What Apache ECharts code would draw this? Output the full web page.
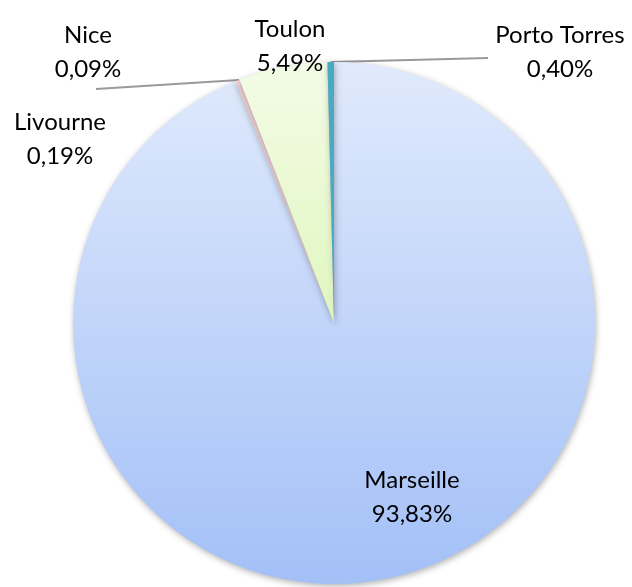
<!DOCTYPE html>
<html>
<head>
<meta charset="utf-8">
<script src="https://cdn.jsdelivr.net/npm/echarts@6/dist/echarts.min.js"></script>
<style>
  html, body { margin: 0; padding: 0; background: #fff; }
  #chart { width: 632px; height: 587px; }
</style>
</head>
<body>
<div id="chart"></div>
<script>
// data, clockwise from 12 o'clock
const ports = ['Marseille', 'Livourne', 'Nice', 'Toulon', 'Porto Torres']
const shares = [93.83, 0.19, 0.09, 5.49, 0.40]

// where each label sits (centre of the text block)
const labelPos = {
  'Marseille': [412, 497],
  'Livourne': [60, 139],
  'Nice': [88, 52],
  'Toulon': [290, 46],
  'Porto Torres': [560, 52]
}
// end of the leader line, only for the labels that have one
const lineEnd = {
  'Nice': [96, 89],
  'Porto Torres': [488, 58]
}

const grad = (a, b) => new echarts.graphic.LinearGradient(0, 0, 0, 1, [
  { offset: 0, color: a }, { offset: 1, color: b }
])

const colors = {
  'Marseille': grad('#e0eafc', '#a3c0f7'),
  'Livourne': '#f7d6d6',
  'Nice': '#f0d0e2',
  'Toulon': grad('#f3fbe6', '#e1f7bf'),
  'Porto Torres': '#4aaac4'
}

const fmt = v => v.toFixed(2).replace('.', ',') + '%'

let myChart = echarts.init(document.getElementById('chart'))

myChart.setOption({
  backgroundColor: '#fff',
  animation: false,
  series: [{
    type: 'pie',
    center: [334, 323],
    radius: 261,
    startAngle: 90,
    clockwise: true,
    avoidLabelOverlap: false,
    itemStyle: {
      shadowBlur: 6,
      shadowOffsetX: 1,
      shadowOffsetY: 2,
      shadowColor: 'rgba(0,0,0,0.3)'
    },
    label: {
      show: true,
      fontFamily: 'Lato',
      fontSize: 24,
      lineHeight: 34,
      color: '#000',
      formatter: p => p.name + '\n' + fmt(p.value)
    },
    labelLine: {
      show: true,
      lineStyle: { color: '#999', width: 2 }
    },
    labelLayout: params => {
      const name = ports[params.dataIndex]
      const pos = labelPos[name]
      const out = { x: pos[0], y: pos[1], align: 'center', verticalAlign: 'middle' }
      if (lineEnd[name] && params.labelLinePoints) {
        const start = params.labelLinePoints[0]
        out.labelLinePoints = [start, lineEnd[name], lineEnd[name]]
      }
      return out
    },
    data: ports.map((name, i) => ({
      name: name,
      value: shares[i],
      itemStyle: { color: colors[name] },
      labelLine: { show: !!lineEnd[name] }
    }))
  }]
})
</script>
</body>
</html>
